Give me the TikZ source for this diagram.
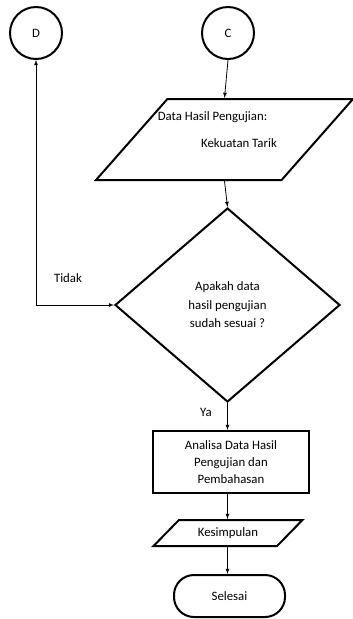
\documentclass[tikz,border=0pt]{standalone}
\usepackage{fontspec}
\setmainfont{Carlito}
\usepackage{tikz}
\usetikzlibrary{arrows,shapes,positioning}

\begin{document}
\begin{tikzpicture}[x=1pt, y=-1pt,
    font=\fontsize{12.8}{18.5}\selectfont,
    shape line/.style={draw, line width=2pt},
    conn/.style={circle, shape line, minimum size=52pt, inner sep=0pt},
    iobox/.style={trapezium, shape line, trapezium stretches=true, inner sep=2pt},
    flow/.style={-latex, line width=0.8pt}]
            \useasboundingbox (0,0) rectangle (353,619);

            % Connectors
            \node[conn] (d) at (36,33) {D};
            \node[conn] (c) at (228,33) {C};

            % Input data
            \node[iobox, minimum width=257pt, minimum height=81pt,
                  trapezium left angle=58, trapezium right angle=122] (data) at (224.5,139.5) {};
            \node (data1) at (212.5,117) {Data Hasil Pengujian:};
            \node (data2) at (239,143) {Kekuatan Tarik};

            % Decision
            \node[diamond, shape line, minimum width=225pt, minimum height=194pt,
                  align=center, inner sep=0pt] (cek) at (227.5,305)
                  {Apakah data\\hasil pengujian\\sudah sesuai ?};
            \node (tidak) at (68,278) {Tidak};
            \node (ya) at (206,412) {Ya};

            % Analysis
            \node[rectangle, shape line, minimum width=156pt, minimum height=62pt,
                  align=center, font=\fontsize{12.8}{16.8}\selectfont] (analisa) at (231,462)
                  {Analisa Data Hasil\\Pengujian dan\\Pembahasan};

            % Conclusion
            \node[iobox, minimum width=150pt, minimum height=26pt,
                  trapezium left angle=42, trapezium right angle=138] (simpul) at (228,533) {Kesimpulan};

            % End
            \node[rectangle, shape line, rounded corners=20pt, minimum width=111pt,
                  minimum height=42pt] (selesai) at (229.5,596) {Selesai};

            % Flow lines
            \draw[flow] (c.south) -- (data.north);
            \draw[flow] (data.south) -- (cek.north);
            \draw[flow] (cek.south) -- (cek.south |- analisa.north);
            \draw[flow] (cek.south |- analisa.south) -- (cek.south |- simpul.north);
            \draw[flow] (cek.south |- simpul.south) -- (cek.south |- selesai.north);
            \draw[flow, latex-latex] (d.south) |- (cek.west);
        \end{tikzpicture}
\end{document}
